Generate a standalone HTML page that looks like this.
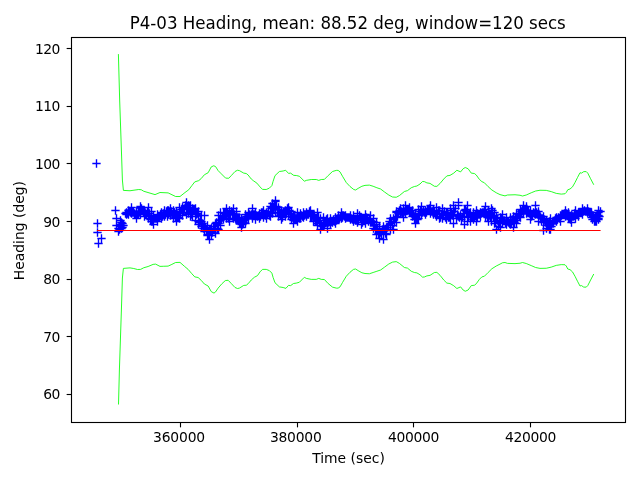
<!DOCTYPE html>
<html><head><meta charset="utf-8"><title>P4-03 Heading</title>
<style>
html,body{margin:0;padding:0;background:#fff;}
body{width:640px;height:480px;overflow:hidden;}
svg{display:block;}
text{font-family:"DejaVu Sans","Liberation Sans",sans-serif;fill:#000;}
.t10{font-size:13.89px;}
.tx{letter-spacing:-0.15px;}
.ty{letter-spacing:-0.55px;}
.t12{font-size:16.67px;letter-spacing:-0.024px;}
</style></head><body>
<svg width="640" height="480" viewBox="0 0 640 480">
<rect x="0" y="0" width="640" height="480" fill="#fff"/>
<defs><clipPath id="ax"><rect x="71.5" y="37.5" width="554" height="385"/></clipPath></defs>
<g clip-path="url(#ax)">
<path d="M92.33 163.50h8.34M96.50 159.33v8.34M93.33 223.50h8.34M97.50 219.33v8.34M93.33 232.50h8.34M97.50 228.33v8.34M97.33 238.50h8.34M101.50 234.33v8.34M94.33 243.50h8.34M98.50 239.33v8.34M111.33 210.50h8.34M115.50 206.33v8.34M112.33 218.50h8.34M116.50 214.33v8.34M112.33 225.50h8.34M116.50 221.33v8.34M114.33 231.50h8.34M118.50 227.33v8.34M115.33 229.50h8.34M119.50 225.33v8.34M116.33 220.50h8.34M120.50 216.33v8.34M117.33 222.50h8.34M121.50 218.33v8.34M118.33 223.50h8.34M122.50 219.33v8.34M119.33 225.50h8.34M123.50 221.33v8.34M118.33 227.50h8.34M122.50 223.33v8.34M117.33 228.50h8.34M121.50 224.33v8.34M116.33 226.50h8.34M120.50 222.33v8.34M116.33 224.50h8.34M120.50 220.33v8.34M114.33 228.50h8.34M118.50 224.33v8.34M121.33 213.50h8.34M125.50 209.33v8.34M122.33 213.50h8.34M126.50 209.33v8.34M123.33 213.50h8.34M127.50 209.33v8.34M124.33 212.50h8.34M128.50 208.33v8.34M125.33 211.50h8.34M129.50 207.33v8.34M126.33 211.50h8.34M130.50 207.33v8.34M126.33 212.50h8.34M130.50 208.33v8.34M127.33 211.50h8.34M131.50 207.33v8.34M128.33 212.50h8.34M132.50 208.33v8.34M129.33 212.50h8.34M133.50 208.33v8.34M130.33 213.50h8.34M134.50 209.33v8.34M131.33 214.50h8.34M135.50 210.33v8.34M132.33 212.50h8.34M136.50 208.33v8.34M133.33 214.50h8.34M137.50 210.33v8.34M134.33 213.50h8.34M138.50 209.33v8.34M135.33 212.50h8.34M139.50 208.33v8.34M136.33 207.50h8.34M140.50 203.33v8.34M137.33 208.50h8.34M141.50 204.33v8.34M138.33 210.50h8.34M142.50 206.33v8.34M139.33 212.50h8.34M143.50 208.33v8.34M140.33 213.50h8.34M144.50 209.33v8.34M141.33 213.50h8.34M145.50 209.33v8.34M142.33 214.50h8.34M146.50 210.33v8.34M143.33 211.50h8.34M147.50 207.33v8.34M144.33 213.50h8.34M148.50 209.33v8.34M145.33 215.50h8.34M149.50 211.33v8.34M145.33 213.50h8.34M149.50 209.33v8.34M146.33 219.50h8.34M150.50 215.33v8.34M147.33 218.50h8.34M151.50 214.33v8.34M148.33 221.50h8.34M152.50 217.33v8.34M149.33 219.50h8.34M153.50 215.33v8.34M150.33 218.50h8.34M154.50 214.33v8.34M151.33 218.50h8.34M155.50 214.33v8.34M152.33 218.50h8.34M156.50 214.33v8.34M153.33 219.50h8.34M157.50 215.33v8.34M154.33 217.50h8.34M158.50 213.33v8.34M155.33 216.50h8.34M159.50 212.33v8.34M156.33 214.50h8.34M160.50 210.33v8.34M157.33 214.50h8.34M161.50 210.33v8.34M158.33 216.50h8.34M162.50 212.33v8.34M159.33 213.50h8.34M163.50 209.33v8.34M160.33 213.50h8.34M164.50 209.33v8.34M161.33 214.50h8.34M165.50 210.33v8.34M162.33 211.50h8.34M166.50 207.33v8.34M163.33 213.50h8.34M167.50 209.33v8.34M164.33 214.50h8.34M168.50 210.33v8.34M164.33 210.50h8.34M168.50 206.33v8.34M165.33 211.50h8.34M169.50 207.33v8.34M166.33 211.50h8.34M170.50 207.33v8.34M167.33 211.50h8.34M171.50 207.33v8.34M168.33 214.50h8.34M172.50 210.33v8.34M169.33 214.50h8.34M173.50 210.33v8.34M170.33 212.50h8.34M174.50 208.33v8.34M171.33 217.50h8.34M175.50 213.33v8.34M172.33 217.50h8.34M176.50 213.33v8.34M173.33 217.50h8.34M177.50 213.33v8.34M174.33 217.50h8.34M178.50 213.33v8.34M175.33 213.50h8.34M179.50 209.33v8.34M176.33 212.50h8.34M180.50 208.33v8.34M177.33 209.50h8.34M181.50 205.33v8.34M178.33 212.50h8.34M182.50 208.33v8.34M179.33 209.50h8.34M183.50 205.33v8.34M180.33 208.50h8.34M184.50 204.33v8.34M181.33 205.50h8.34M185.50 201.33v8.34M182.33 205.50h8.34M186.50 201.33v8.34M183.33 207.50h8.34M187.50 203.33v8.34M184.33 213.50h8.34M188.50 209.33v8.34M184.33 205.50h8.34M188.50 201.33v8.34M185.33 207.50h8.34M189.50 203.33v8.34M186.33 212.50h8.34M190.50 208.33v8.34M187.33 214.50h8.34M191.50 210.33v8.34M188.33 214.50h8.34M192.50 210.33v8.34M189.33 209.50h8.34M193.50 205.33v8.34M190.33 209.50h8.34M194.50 205.33v8.34M191.33 216.50h8.34M195.50 212.33v8.34M192.33 214.50h8.34M196.50 210.33v8.34M193.33 213.50h8.34M197.50 209.33v8.34M194.33 221.50h8.34M198.50 217.33v8.34M195.33 222.50h8.34M199.50 218.33v8.34M196.33 220.50h8.34M200.50 216.33v8.34M197.33 221.50h8.34M201.50 217.33v8.34M198.33 223.50h8.34M202.50 219.33v8.34M199.33 228.50h8.34M203.50 224.33v8.34M200.33 225.50h8.34M204.50 221.33v8.34M201.33 227.50h8.34M205.50 223.33v8.34M202.33 229.50h8.34M206.50 225.33v8.34M203.33 225.50h8.34M207.50 221.33v8.34M203.33 234.50h8.34M207.50 230.33v8.34M204.33 235.50h8.34M208.50 231.33v8.34M205.33 235.50h8.34M209.50 231.33v8.34M206.33 229.50h8.34M210.50 225.33v8.34M207.33 231.50h8.34M211.50 227.33v8.34M208.33 232.50h8.34M212.50 228.33v8.34M209.33 226.50h8.34M213.50 222.33v8.34M210.33 228.50h8.34M214.50 224.33v8.34M211.33 230.50h8.34M215.50 226.33v8.34M212.33 222.50h8.34M216.50 218.33v8.34M213.33 228.50h8.34M217.50 224.33v8.34M214.33 223.50h8.34M218.50 219.33v8.34M215.33 220.50h8.34M219.50 216.33v8.34M216.33 220.50h8.34M220.50 216.33v8.34M217.33 219.50h8.34M221.50 215.33v8.34M218.33 217.50h8.34M222.50 213.33v8.34M219.33 217.50h8.34M223.50 213.33v8.34M220.33 213.50h8.34M224.50 209.33v8.34M221.33 213.50h8.34M225.50 209.33v8.34M222.33 216.50h8.34M226.50 212.33v8.34M222.33 214.50h8.34M226.50 210.33v8.34M223.33 212.50h8.34M227.50 208.33v8.34M224.33 218.50h8.34M228.50 214.33v8.34M225.33 219.50h8.34M229.50 215.33v8.34M226.33 214.50h8.34M230.50 210.33v8.34M227.33 211.50h8.34M231.50 207.33v8.34M228.33 213.50h8.34M232.50 209.33v8.34M229.33 213.50h8.34M233.50 209.33v8.34M230.33 214.50h8.34M234.50 210.33v8.34M231.33 218.50h8.34M235.50 214.33v8.34M232.33 214.50h8.34M236.50 210.33v8.34M233.33 219.50h8.34M237.50 215.33v8.34M234.33 217.50h8.34M238.50 213.33v8.34M235.33 219.50h8.34M239.50 215.33v8.34M236.33 222.50h8.34M240.50 218.33v8.34M237.33 224.50h8.34M241.50 220.33v8.34M238.33 224.50h8.34M242.50 220.33v8.34M239.33 222.50h8.34M243.50 218.33v8.34M240.33 220.50h8.34M244.50 216.33v8.34M241.33 219.50h8.34M245.50 215.33v8.34M242.33 218.50h8.34M246.50 214.33v8.34M242.33 216.50h8.34M246.50 212.33v8.34M243.33 216.50h8.34M247.50 212.33v8.34M244.33 215.50h8.34M248.50 211.33v8.34M245.33 214.50h8.34M249.50 210.33v8.34M246.33 215.50h8.34M250.50 211.33v8.34M247.33 214.50h8.34M251.50 210.33v8.34M248.33 217.50h8.34M252.50 213.33v8.34M249.33 214.50h8.34M253.50 210.33v8.34M250.33 214.50h8.34M254.50 210.33v8.34M251.33 215.50h8.34M255.50 211.33v8.34M252.33 215.50h8.34M256.50 211.33v8.34M253.33 216.50h8.34M257.50 212.33v8.34M254.33 215.50h8.34M258.50 211.33v8.34M255.33 215.50h8.34M259.50 211.33v8.34M256.33 216.50h8.34M260.50 212.33v8.34M257.33 212.50h8.34M261.50 208.33v8.34M258.33 212.50h8.34M262.50 208.33v8.34M259.33 214.50h8.34M263.50 210.33v8.34M260.33 214.50h8.34M264.50 210.33v8.34M261.33 215.50h8.34M265.50 211.33v8.34M261.33 214.50h8.34M265.50 210.33v8.34M262.33 215.50h8.34M266.50 211.33v8.34M263.33 214.50h8.34M267.50 210.33v8.34M264.33 211.50h8.34M268.50 207.33v8.34M265.33 215.50h8.34M269.50 211.33v8.34M266.33 211.50h8.34M270.50 207.33v8.34M267.33 208.50h8.34M271.50 204.33v8.34M268.33 207.50h8.34M272.50 203.33v8.34M269.33 207.50h8.34M273.50 203.33v8.34M270.33 206.50h8.34M274.50 202.33v8.34M271.33 201.50h8.34M275.50 197.33v8.34M272.33 206.50h8.34M276.50 202.33v8.34M273.33 212.50h8.34M277.50 208.33v8.34M274.33 209.50h8.34M278.50 205.33v8.34M275.33 212.50h8.34M279.50 208.33v8.34M276.33 215.50h8.34M280.50 211.33v8.34M277.33 215.50h8.34M281.50 211.33v8.34M278.33 217.50h8.34M282.50 213.33v8.34M279.33 211.50h8.34M283.50 207.33v8.34M280.33 213.50h8.34M284.50 209.33v8.34M281.33 213.50h8.34M285.50 209.33v8.34M282.33 213.50h8.34M286.50 209.33v8.34M283.33 208.50h8.34M287.50 204.33v8.34M284.33 213.50h8.34M288.50 209.33v8.34M285.33 210.50h8.34M289.50 206.33v8.34M286.33 216.50h8.34M290.50 212.33v8.34M287.33 213.50h8.34M291.50 209.33v8.34M288.33 217.50h8.34M292.50 213.33v8.34M289.33 220.50h8.34M293.50 216.33v8.34M290.33 218.50h8.34M294.50 214.33v8.34M291.33 218.50h8.34M295.50 214.33v8.34M292.33 218.50h8.34M296.50 214.33v8.34M293.33 217.50h8.34M297.50 213.33v8.34M294.33 216.50h8.34M298.50 212.33v8.34M295.33 218.50h8.34M299.50 214.33v8.34M296.33 216.50h8.34M300.50 212.33v8.34M297.33 215.50h8.34M301.50 211.33v8.34M298.33 216.50h8.34M302.50 212.33v8.34M299.33 213.50h8.34M303.50 209.33v8.34M300.33 215.50h8.34M304.50 211.33v8.34M300.33 214.50h8.34M304.50 210.33v8.34M301.33 214.50h8.34M305.50 210.33v8.34M302.33 215.50h8.34M306.50 211.33v8.34M303.33 214.50h8.34M307.50 210.33v8.34M304.33 214.50h8.34M308.50 210.33v8.34M305.33 211.50h8.34M309.50 207.33v8.34M306.33 212.50h8.34M310.50 208.33v8.34M307.33 216.50h8.34M311.50 212.33v8.34M308.33 215.50h8.34M312.50 211.33v8.34M309.33 216.50h8.34M313.50 212.33v8.34M310.33 215.50h8.34M314.50 211.33v8.34M311.33 221.50h8.34M315.50 217.33v8.34M312.33 220.50h8.34M316.50 216.33v8.34M313.33 223.50h8.34M317.50 219.33v8.34M314.33 217.50h8.34M318.50 213.33v8.34M315.33 222.50h8.34M319.50 218.33v8.34M316.33 220.50h8.34M320.50 216.33v8.34M317.33 225.50h8.34M321.50 221.33v8.34M318.33 226.50h8.34M322.50 222.33v8.34M319.33 220.50h8.34M323.50 216.33v8.34M319.33 224.50h8.34M323.50 220.33v8.34M320.33 223.50h8.34M324.50 219.33v8.34M321.33 222.50h8.34M325.50 218.33v8.34M322.33 219.50h8.34M326.50 215.33v8.34M323.33 225.50h8.34M327.50 221.33v8.34M324.33 222.50h8.34M328.50 218.33v8.34M325.33 221.50h8.34M329.50 217.33v8.34M326.33 222.50h8.34M330.50 218.33v8.34M327.33 221.50h8.34M331.50 217.33v8.34M328.33 222.50h8.34M332.50 218.33v8.34M329.33 219.50h8.34M333.50 215.33v8.34M330.33 221.50h8.34M334.50 217.33v8.34M331.33 221.50h8.34M335.50 217.33v8.34M332.33 220.50h8.34M336.50 216.33v8.34M333.33 218.50h8.34M337.50 214.33v8.34M334.33 217.50h8.34M338.50 213.33v8.34M335.33 218.50h8.34M339.50 214.33v8.34M336.33 216.50h8.34M340.50 212.33v8.34M337.33 215.50h8.34M341.50 211.33v8.34M338.33 217.50h8.34M342.50 213.33v8.34M338.33 215.50h8.34M342.50 211.33v8.34M339.33 215.50h8.34M343.50 211.33v8.34M340.33 216.50h8.34M344.50 212.33v8.34M341.33 216.50h8.34M345.50 212.33v8.34M342.33 217.50h8.34M346.50 213.33v8.34M343.33 217.50h8.34M347.50 213.33v8.34M344.33 217.50h8.34M348.50 213.33v8.34M345.33 217.50h8.34M349.50 213.33v8.34M346.33 218.50h8.34M350.50 214.33v8.34M347.33 218.50h8.34M351.50 214.33v8.34M348.33 219.50h8.34M352.50 215.33v8.34M349.33 218.50h8.34M353.50 214.33v8.34M350.33 219.50h8.34M354.50 215.33v8.34M351.33 220.50h8.34M355.50 216.33v8.34M352.33 220.50h8.34M356.50 216.33v8.34M353.33 216.50h8.34M357.50 212.33v8.34M354.33 219.50h8.34M358.50 215.33v8.34M355.33 215.50h8.34M359.50 211.33v8.34M356.33 217.50h8.34M360.50 213.33v8.34M357.33 217.50h8.34M361.50 213.33v8.34M358.33 222.50h8.34M362.50 218.33v8.34M358.33 218.50h8.34M362.50 214.33v8.34M359.33 219.50h8.34M363.50 215.33v8.34M360.33 218.50h8.34M364.50 214.33v8.34M361.33 218.50h8.34M365.50 214.33v8.34M362.33 217.50h8.34M366.50 213.33v8.34M363.33 219.50h8.34M367.50 215.33v8.34M364.33 221.50h8.34M368.50 217.33v8.34M365.33 219.50h8.34M369.50 215.33v8.34M366.33 220.50h8.34M370.50 216.33v8.34M367.33 222.50h8.34M371.50 218.33v8.34M368.33 222.50h8.34M372.50 218.33v8.34M369.33 221.50h8.34M373.50 217.33v8.34M370.33 224.50h8.34M374.50 220.33v8.34M371.33 229.50h8.34M375.50 225.33v8.34M372.33 224.50h8.34M376.50 220.33v8.34M373.33 228.50h8.34M377.50 224.33v8.34M374.33 233.50h8.34M378.50 229.33v8.34M375.33 234.50h8.34M379.50 230.33v8.34M376.33 232.50h8.34M380.50 228.33v8.34M377.33 234.50h8.34M381.50 230.33v8.34M377.33 233.50h8.34M381.50 229.33v8.34M378.33 229.50h8.34M382.50 225.33v8.34M379.33 228.50h8.34M383.50 224.33v8.34M380.33 230.50h8.34M384.50 226.33v8.34M381.33 233.50h8.34M385.50 229.33v8.34M382.33 230.50h8.34M386.50 226.33v8.34M383.33 227.50h8.34M387.50 223.33v8.34M384.33 225.50h8.34M388.50 221.33v8.34M385.33 221.50h8.34M389.50 217.33v8.34M386.33 223.50h8.34M390.50 219.33v8.34M387.33 221.50h8.34M391.50 217.33v8.34M388.33 225.50h8.34M392.50 221.33v8.34M389.33 219.50h8.34M393.50 215.33v8.34M390.33 222.50h8.34M394.50 218.33v8.34M391.33 217.50h8.34M395.50 213.33v8.34M392.33 212.50h8.34M396.50 208.33v8.34M393.33 216.50h8.34M397.50 212.33v8.34M394.33 213.50h8.34M398.50 209.33v8.34M395.33 210.50h8.34M399.50 206.33v8.34M396.33 210.50h8.34M400.50 206.33v8.34M396.33 211.50h8.34M400.50 207.33v8.34M397.33 211.50h8.34M401.50 207.33v8.34M398.33 213.50h8.34M402.50 209.33v8.34M399.33 214.50h8.34M403.50 210.33v8.34M400.33 211.50h8.34M404.50 207.33v8.34M401.33 209.50h8.34M405.50 205.33v8.34M402.33 210.50h8.34M406.50 206.33v8.34M403.33 210.50h8.34M407.50 206.33v8.34M404.33 210.50h8.34M408.50 206.33v8.34M405.33 208.50h8.34M409.50 204.33v8.34M406.33 212.50h8.34M410.50 208.33v8.34M407.33 213.50h8.34M411.50 209.33v8.34M408.33 213.50h8.34M412.50 209.33v8.34M409.33 214.50h8.34M413.50 210.33v8.34M410.33 219.50h8.34M414.50 215.33v8.34M411.33 214.50h8.34M415.50 210.33v8.34M412.33 218.50h8.34M416.50 214.33v8.34M413.33 219.50h8.34M417.50 215.33v8.34M414.33 213.50h8.34M418.50 209.33v8.34M415.33 214.50h8.34M419.50 210.33v8.34M415.33 215.50h8.34M419.50 211.33v8.34M416.33 211.50h8.34M420.50 207.33v8.34M417.33 211.50h8.34M421.50 207.33v8.34M418.33 212.50h8.34M422.50 208.33v8.34M419.33 210.50h8.34M423.50 206.33v8.34M420.33 212.50h8.34M424.50 208.33v8.34M421.33 212.50h8.34M425.50 208.33v8.34M422.33 212.50h8.34M426.50 208.33v8.34M423.33 210.50h8.34M427.50 206.33v8.34M424.33 210.50h8.34M428.50 206.33v8.34M425.33 208.50h8.34M429.50 204.33v8.34M426.33 209.50h8.34M430.50 205.33v8.34M427.33 211.50h8.34M431.50 207.33v8.34M428.33 211.50h8.34M432.50 207.33v8.34M429.33 211.50h8.34M433.50 207.33v8.34M430.33 211.50h8.34M434.50 207.33v8.34M431.33 214.50h8.34M435.50 210.33v8.34M432.33 214.50h8.34M436.50 210.33v8.34M433.33 213.50h8.34M437.50 209.33v8.34M434.33 210.50h8.34M438.50 206.33v8.34M435.33 214.50h8.34M439.50 210.33v8.34M436.33 217.50h8.34M440.50 213.33v8.34M437.33 214.50h8.34M441.50 210.33v8.34M438.33 213.50h8.34M442.50 209.33v8.34M439.33 215.50h8.34M443.50 211.33v8.34M440.33 211.50h8.34M444.50 207.33v8.34M441.33 217.50h8.34M445.50 213.33v8.34M442.33 215.50h8.34M446.50 211.33v8.34M443.33 213.50h8.34M447.50 209.33v8.34M444.33 217.50h8.34M448.50 213.33v8.34M445.33 217.50h8.34M449.50 213.33v8.34M446.33 210.50h8.34M450.50 206.33v8.34M447.33 212.50h8.34M451.50 208.33v8.34M448.33 215.50h8.34M452.50 211.33v8.34M449.33 215.50h8.34M453.50 211.33v8.34M450.33 211.50h8.34M454.50 207.33v8.34M451.33 208.50h8.34M455.50 204.33v8.34M452.33 218.50h8.34M456.50 214.33v8.34M453.33 214.50h8.34M457.50 210.33v8.34M454.33 205.50h8.34M458.50 201.33v8.34M455.33 217.50h8.34M459.50 213.33v8.34M456.33 215.50h8.34M460.50 211.33v8.34M457.33 219.50h8.34M461.50 215.33v8.34M458.33 217.50h8.34M462.50 213.33v8.34M459.33 213.50h8.34M463.50 209.33v8.34M460.33 217.50h8.34M464.50 213.33v8.34M461.33 209.50h8.34M465.50 205.33v8.34M462.33 211.50h8.34M466.50 207.33v8.34M463.33 213.50h8.34M467.50 209.33v8.34M464.33 216.50h8.34M468.50 212.33v8.34M465.33 213.50h8.34M469.50 209.33v8.34M466.33 216.50h8.34M470.50 212.33v8.34M467.33 217.50h8.34M471.50 213.33v8.34M468.33 217.50h8.34M472.50 213.33v8.34M469.33 217.50h8.34M473.50 213.33v8.34M470.33 216.50h8.34M474.50 212.33v8.34M471.33 215.50h8.34M475.50 211.33v8.34M472.33 217.50h8.34M476.50 213.33v8.34M473.33 216.50h8.34M477.50 212.33v8.34M473.33 213.50h8.34M477.50 209.33v8.34M474.33 214.50h8.34M478.50 210.33v8.34M475.33 214.50h8.34M479.50 210.33v8.34M476.33 213.50h8.34M480.50 209.33v8.34M477.33 213.50h8.34M481.50 209.33v8.34M478.33 212.50h8.34M482.50 208.33v8.34M479.33 212.50h8.34M483.50 208.33v8.34M480.33 211.50h8.34M484.50 207.33v8.34M481.33 209.50h8.34M485.50 205.33v8.34M482.33 214.50h8.34M486.50 210.33v8.34M483.33 217.50h8.34M487.50 213.33v8.34M484.33 217.50h8.34M488.50 213.33v8.34M485.33 215.50h8.34M489.50 211.33v8.34M486.33 216.50h8.34M490.50 212.33v8.34M487.33 212.50h8.34M491.50 208.33v8.34M488.33 210.50h8.34M492.50 206.33v8.34M489.33 216.50h8.34M493.50 212.33v8.34M490.33 215.50h8.34M494.50 211.33v8.34M491.33 221.50h8.34M495.50 217.33v8.34M492.33 218.50h8.34M496.50 214.33v8.34M493.33 218.50h8.34M497.50 214.33v8.34M493.33 220.50h8.34M497.50 216.33v8.34M494.33 226.50h8.34M498.50 222.33v8.34M495.33 221.50h8.34M499.50 217.33v8.34M496.33 218.50h8.34M500.50 214.33v8.34M497.33 218.50h8.34M501.50 214.33v8.34M498.33 220.50h8.34M502.50 216.33v8.34M499.33 220.50h8.34M503.50 216.33v8.34M500.33 220.50h8.34M504.50 216.33v8.34M501.33 223.50h8.34M505.50 219.33v8.34M502.33 222.50h8.34M506.50 218.33v8.34M503.33 221.50h8.34M507.50 217.33v8.34M504.33 222.50h8.34M508.50 218.33v8.34M505.33 223.50h8.34M509.50 219.33v8.34M506.33 222.50h8.34M510.50 218.33v8.34M507.33 223.50h8.34M511.50 219.33v8.34M508.33 219.50h8.34M512.50 215.33v8.34M509.33 221.50h8.34M513.50 217.33v8.34M510.33 222.50h8.34M514.50 218.33v8.34M511.33 218.50h8.34M515.50 214.33v8.34M512.33 220.50h8.34M516.50 216.33v8.34M512.33 218.50h8.34M516.50 214.33v8.34M513.33 217.50h8.34M517.50 213.33v8.34M514.33 214.50h8.34M518.50 210.33v8.34M515.33 216.50h8.34M519.50 212.33v8.34M516.33 214.50h8.34M520.50 210.33v8.34M517.33 211.50h8.34M521.50 207.33v8.34M518.33 210.50h8.34M522.50 206.33v8.34M519.33 212.50h8.34M523.50 208.33v8.34M520.33 209.50h8.34M524.50 205.33v8.34M521.33 210.50h8.34M525.50 206.33v8.34M522.33 211.50h8.34M526.50 207.33v8.34M523.33 211.50h8.34M527.50 207.33v8.34M524.33 210.50h8.34M528.50 206.33v8.34M525.33 213.50h8.34M529.50 209.33v8.34M526.33 215.50h8.34M530.50 211.33v8.34M527.33 216.50h8.34M531.50 212.33v8.34M528.33 215.50h8.34M532.50 211.33v8.34M529.33 212.50h8.34M533.50 208.33v8.34M530.33 213.50h8.34M534.50 209.33v8.34M531.33 211.50h8.34M535.50 207.33v8.34M531.33 210.50h8.34M535.50 206.33v8.34M532.33 212.50h8.34M536.50 208.33v8.34M533.33 214.50h8.34M537.50 210.33v8.34M534.33 217.50h8.34M538.50 213.33v8.34M535.33 215.50h8.34M539.50 211.33v8.34M536.33 217.50h8.34M540.50 213.33v8.34M537.33 221.50h8.34M541.50 217.33v8.34M538.33 218.50h8.34M542.50 214.33v8.34M539.33 222.50h8.34M543.50 218.33v8.34M540.33 219.50h8.34M544.50 215.33v8.34M541.33 222.50h8.34M545.50 218.33v8.34M542.33 225.50h8.34M546.50 221.33v8.34M543.33 225.50h8.34M547.50 221.33v8.34M544.33 224.50h8.34M548.50 220.33v8.34M545.33 224.50h8.34M549.50 220.33v8.34M546.33 220.50h8.34M550.50 216.33v8.34M547.33 226.50h8.34M551.50 222.33v8.34M548.33 223.50h8.34M552.50 219.33v8.34M549.33 223.50h8.34M553.50 219.33v8.34M550.33 220.50h8.34M554.50 216.33v8.34M551.33 220.50h8.34M555.50 216.33v8.34M551.33 218.50h8.34M555.50 214.33v8.34M552.33 220.50h8.34M556.50 216.33v8.34M553.33 219.50h8.34M557.50 215.33v8.34M554.33 217.50h8.34M558.50 213.33v8.34M555.33 218.50h8.34M559.50 214.33v8.34M556.33 218.50h8.34M560.50 214.33v8.34M557.33 215.50h8.34M561.50 211.33v8.34M558.33 214.50h8.34M562.50 210.33v8.34M559.33 214.50h8.34M563.50 210.33v8.34M560.33 213.50h8.34M564.50 209.33v8.34M561.33 211.50h8.34M565.50 207.33v8.34M562.33 213.50h8.34M566.50 209.33v8.34M563.33 214.50h8.34M567.50 210.33v8.34M564.33 216.50h8.34M568.50 212.33v8.34M565.33 217.50h8.34M569.50 213.33v8.34M566.33 219.50h8.34M570.50 215.33v8.34M567.33 219.50h8.34M571.50 215.33v8.34M568.33 216.50h8.34M572.50 212.33v8.34M569.33 216.50h8.34M573.50 212.33v8.34M570.33 214.50h8.34M574.50 210.33v8.34M570.33 213.50h8.34M574.50 209.33v8.34M571.33 214.50h8.34M575.50 210.33v8.34M572.33 214.50h8.34M576.50 210.33v8.34M573.33 214.50h8.34M577.50 210.33v8.34M574.33 213.50h8.34M578.50 209.33v8.34M575.33 212.50h8.34M579.50 208.33v8.34M576.33 212.50h8.34M580.50 208.33v8.34M577.33 212.50h8.34M581.50 208.33v8.34M578.33 211.50h8.34M582.50 207.33v8.34M579.33 211.50h8.34M583.50 207.33v8.34M580.33 210.50h8.34M584.50 206.33v8.34M581.33 211.50h8.34M585.50 207.33v8.34M582.33 211.50h8.34M586.50 207.33v8.34M583.33 210.50h8.34M587.50 206.33v8.34M584.33 211.50h8.34M588.50 207.33v8.34M585.33 212.50h8.34M589.50 208.33v8.34M586.33 212.50h8.34M590.50 208.33v8.34M587.33 214.50h8.34M591.50 210.33v8.34M588.33 215.50h8.34M592.50 211.33v8.34M589.33 215.50h8.34M593.50 211.33v8.34M589.33 217.50h8.34M593.50 213.33v8.34M590.33 218.50h8.34M594.50 214.33v8.34M591.33 217.50h8.34M595.50 213.33v8.34M592.33 217.50h8.34M596.50 213.33v8.34M593.33 216.50h8.34M597.50 212.33v8.34M594.33 215.50h8.34M598.50 211.33v8.34M596.33 211.50h8.34M600.50 207.33v8.34M594.33 210.50h8.34M598.50 206.33v8.34M595.33 216.50h8.34M599.50 212.33v8.34M590.33 221.50h8.34M594.50 217.33v8.34M592.33 221.50h8.34M596.50 217.33v8.34M588.33 219.50h8.34M592.50 215.33v8.34M594.33 219.50h8.34M598.50 215.33v8.34M587.33 217.50h8.34M591.50 213.33v8.34M122.33 212.50h8.34M126.50 208.33v8.34M122.33 214.50h8.34M126.50 210.33v8.34M124.33 210.50h8.34M128.50 206.33v8.34M124.33 214.50h8.34M128.50 210.33v8.34M127.33 207.50h8.34M131.50 203.33v8.34M127.33 213.50h8.34M131.50 209.33v8.34M132.33 211.50h8.34M136.50 207.33v8.34M132.33 218.50h8.34M136.50 214.33v8.34M136.33 206.50h8.34M140.50 202.33v8.34M136.33 214.50h8.34M140.50 210.33v8.34M140.33 210.50h8.34M144.50 206.33v8.34M140.33 216.50h8.34M144.50 212.33v8.34M144.33 207.50h8.34M148.50 203.33v8.34M144.33 218.50h8.34M148.50 214.33v8.34M147.33 211.50h8.34M151.50 207.33v8.34M147.33 221.50h8.34M151.50 217.33v8.34M149.33 216.50h8.34M153.50 212.33v8.34M149.33 224.50h8.34M153.50 220.33v8.34M153.33 214.50h8.34M157.50 210.33v8.34M153.33 221.50h8.34M157.50 217.33v8.34M157.33 212.50h8.34M161.50 208.33v8.34M157.33 218.50h8.34M161.50 214.33v8.34M160.33 210.50h8.34M164.50 206.33v8.34M160.33 216.50h8.34M164.50 212.33v8.34M163.33 210.50h8.34M167.50 206.33v8.34M163.33 216.50h8.34M167.50 212.33v8.34M166.33 208.50h8.34M170.50 204.33v8.34M166.33 215.50h8.34M170.50 211.33v8.34M169.33 210.50h8.34M173.50 206.33v8.34M169.33 218.50h8.34M173.50 214.33v8.34M172.33 211.50h8.34M176.50 207.33v8.34M172.33 221.50h8.34M176.50 217.33v8.34M175.33 207.50h8.34M179.50 203.33v8.34M175.33 218.50h8.34M179.50 214.33v8.34M178.33 207.50h8.34M182.50 203.33v8.34M178.33 215.50h8.34M182.50 211.33v8.34M182.33 202.50h8.34M186.50 198.33v8.34M182.33 214.50h8.34M186.50 210.33v8.34M186.33 205.50h8.34M190.50 201.33v8.34M186.33 216.50h8.34M190.50 212.33v8.34M188.33 208.50h8.34M192.50 204.33v8.34M188.33 216.50h8.34M192.50 212.33v8.34M191.33 208.50h8.34M195.50 204.33v8.34M191.33 220.50h8.34M195.50 216.33v8.34M194.33 211.50h8.34M198.50 207.33v8.34M194.33 224.50h8.34M198.50 220.33v8.34M197.33 215.50h8.34M201.50 211.33v8.34M197.33 226.50h8.34M201.50 222.33v8.34M200.33 215.50h8.34M204.50 211.33v8.34M200.33 231.50h8.34M204.50 227.33v8.34M203.33 235.50h8.34M207.50 231.33v8.34M205.33 229.50h8.34M209.50 225.33v8.34M205.33 239.50h8.34M209.50 235.33v8.34M207.33 228.50h8.34M211.50 224.33v8.34M207.33 235.50h8.34M211.50 231.33v8.34M211.33 223.50h8.34M215.50 219.33v8.34M211.33 233.50h8.34M215.50 229.33v8.34M214.33 215.50h8.34M218.50 211.33v8.34M214.33 229.50h8.34M218.50 225.33v8.34M216.33 212.50h8.34M220.50 208.33v8.34M216.33 225.50h8.34M220.50 221.33v8.34M219.33 212.50h8.34M223.50 208.33v8.34M219.33 219.50h8.34M223.50 215.33v8.34M222.33 208.50h8.34M226.50 204.33v8.34M222.33 218.50h8.34M226.50 214.33v8.34M225.33 210.50h8.34M229.50 206.33v8.34M225.33 221.50h8.34M229.50 217.33v8.34M229.33 208.50h8.34M233.50 204.33v8.34M229.33 218.50h8.34M233.50 214.33v8.34M232.33 211.50h8.34M236.50 207.33v8.34M232.33 220.50h8.34M236.50 216.33v8.34M235.33 217.50h8.34M239.50 213.33v8.34M235.33 223.50h8.34M239.50 219.33v8.34M237.33 218.50h8.34M241.50 214.33v8.34M237.33 227.50h8.34M241.50 223.33v8.34M241.33 214.50h8.34M245.50 210.33v8.34M241.33 223.50h8.34M245.50 219.33v8.34M244.33 212.50h8.34M248.50 208.33v8.34M244.33 218.50h8.34M248.50 214.33v8.34M248.33 208.50h8.34M252.50 204.33v8.34M248.33 218.50h8.34M252.50 214.33v8.34M251.33 212.50h8.34M255.50 208.33v8.34M251.33 219.50h8.34M255.50 215.33v8.34M255.33 213.50h8.34M259.50 209.33v8.34M255.33 218.50h8.34M259.50 214.33v8.34M259.33 210.50h8.34M263.50 206.33v8.34M259.33 217.50h8.34M263.50 213.33v8.34M262.33 212.50h8.34M266.50 208.33v8.34M262.33 218.50h8.34M266.50 214.33v8.34M266.33 206.50h8.34M270.50 202.33v8.34M266.33 216.50h8.34M270.50 212.33v8.34M268.33 203.50h8.34M272.50 199.33v8.34M268.33 213.50h8.34M272.50 209.33v8.34M271.33 200.50h8.34M275.50 196.33v8.34M271.33 212.50h8.34M275.50 208.33v8.34M274.33 207.50h8.34M278.50 203.33v8.34M274.33 216.50h8.34M278.50 212.33v8.34M277.33 210.50h8.34M281.50 206.33v8.34M277.33 219.50h8.34M281.50 215.33v8.34M281.33 210.50h8.34M285.50 206.33v8.34M281.33 216.50h8.34M285.50 212.33v8.34M284.33 207.50h8.34M288.50 203.33v8.34M284.33 214.50h8.34M288.50 210.33v8.34M287.33 211.50h8.34M291.50 207.33v8.34M287.33 219.50h8.34M291.50 215.33v8.34M289.33 215.50h8.34M293.50 211.33v8.34M289.33 223.50h8.34M293.50 219.33v8.34M293.33 212.50h8.34M297.50 208.33v8.34M293.33 221.50h8.34M297.50 217.33v8.34M296.33 213.50h8.34M300.50 209.33v8.34M296.33 218.50h8.34M300.50 214.33v8.34M299.33 212.50h8.34M303.50 208.33v8.34M299.33 217.50h8.34M303.50 213.33v8.34M302.33 212.50h8.34M306.50 208.33v8.34M302.33 216.50h8.34M306.50 212.33v8.34M306.33 210.50h8.34M310.50 206.33v8.34M306.33 216.50h8.34M310.50 212.33v8.34M309.33 214.50h8.34M313.50 210.33v8.34M309.33 221.50h8.34M313.50 217.33v8.34M313.33 212.50h8.34M317.50 208.33v8.34M313.33 225.50h8.34M317.50 221.33v8.34M316.33 218.50h8.34M320.50 214.33v8.34M316.33 229.50h8.34M320.50 225.33v8.34M319.33 217.50h8.34M323.50 213.33v8.34M319.33 225.50h8.34M323.50 221.33v8.34M323.33 218.50h8.34M327.50 214.33v8.34M323.33 228.50h8.34M327.50 224.33v8.34M326.33 218.50h8.34M330.50 214.33v8.34M326.33 224.50h8.34M330.50 220.33v8.34M331.33 217.50h8.34M335.50 213.33v8.34M331.33 223.50h8.34M335.50 219.33v8.34M334.33 215.50h8.34M338.50 211.33v8.34M334.33 219.50h8.34M338.50 215.33v8.34M337.33 212.50h8.34M341.50 208.33v8.34M337.33 218.50h8.34M341.50 214.33v8.34M341.33 215.50h8.34M345.50 211.33v8.34M341.33 218.50h8.34M345.50 214.33v8.34M346.33 215.50h8.34M350.50 211.33v8.34M346.33 219.50h8.34M350.50 215.33v8.34M349.33 215.50h8.34M353.50 211.33v8.34M349.33 221.50h8.34M353.50 217.33v8.34M353.33 213.50h8.34M357.50 209.33v8.34M353.33 222.50h8.34M357.50 218.33v8.34M357.33 224.50h8.34M361.50 220.33v8.34M361.33 214.50h8.34M365.50 210.33v8.34M361.33 223.50h8.34M365.50 219.33v8.34M366.33 215.50h8.34M370.50 211.33v8.34M366.33 222.50h8.34M370.50 218.33v8.34M369.33 218.50h8.34M373.50 214.33v8.34M369.33 228.50h8.34M373.50 224.33v8.34M372.33 222.50h8.34M376.50 218.33v8.34M372.33 234.50h8.34M376.50 230.33v8.34M375.33 226.50h8.34M379.50 222.33v8.34M375.33 238.50h8.34M379.50 234.33v8.34M379.33 226.50h8.34M383.50 222.33v8.34M379.33 239.50h8.34M383.50 235.33v8.34M382.33 227.50h8.34M386.50 223.33v8.34M382.33 234.50h8.34M386.50 230.33v8.34M386.33 218.50h8.34M390.50 214.33v8.34M386.33 229.50h8.34M390.50 225.33v8.34M389.33 218.50h8.34M393.50 214.33v8.34M389.33 229.50h8.34M393.50 225.33v8.34M392.33 211.50h8.34M396.50 207.33v8.34M392.33 222.50h8.34M396.50 218.33v8.34M396.33 208.50h8.34M400.50 204.33v8.34M396.33 213.50h8.34M400.50 209.33v8.34M399.33 208.50h8.34M403.50 204.33v8.34M399.33 217.50h8.34M403.50 213.33v8.34M401.33 205.50h8.34M405.50 201.33v8.34M401.33 212.50h8.34M405.50 208.33v8.34M405.33 207.50h8.34M409.50 203.33v8.34M405.33 212.50h8.34M409.50 208.33v8.34M408.33 210.50h8.34M412.50 206.33v8.34M408.33 216.50h8.34M412.50 212.33v8.34M411.33 213.50h8.34M415.50 209.33v8.34M411.33 223.50h8.34M415.50 219.33v8.34M414.33 209.50h8.34M418.50 205.33v8.34M414.33 218.50h8.34M418.50 214.33v8.34M417.33 206.50h8.34M421.50 202.33v8.34M417.33 214.50h8.34M421.50 210.33v8.34M421.33 210.50h8.34M425.50 206.33v8.34M421.33 214.50h8.34M425.50 210.33v8.34M426.33 205.50h8.34M430.50 201.33v8.34M426.33 213.50h8.34M430.50 209.33v8.34M429.33 210.50h8.34M433.50 206.33v8.34M429.33 214.50h8.34M433.50 210.33v8.34M432.33 207.50h8.34M436.50 203.33v8.34M432.33 216.50h8.34M436.50 212.33v8.34M435.33 210.50h8.34M439.50 206.33v8.34M435.33 218.50h8.34M439.50 214.33v8.34M438.33 208.50h8.34M442.50 204.33v8.34M438.33 218.50h8.34M442.50 214.33v8.34M442.33 212.50h8.34M446.50 208.33v8.34M442.33 219.50h8.34M446.50 215.33v8.34M446.33 208.50h8.34M450.50 204.33v8.34M446.33 218.50h8.34M450.50 214.33v8.34M449.33 205.50h8.34M453.50 201.33v8.34M449.33 223.50h8.34M453.50 219.33v8.34M454.33 202.50h8.34M458.50 198.33v8.34M454.33 216.50h8.34M458.50 212.33v8.34M460.33 210.50h8.34M464.50 206.33v8.34M460.33 224.50h8.34M464.50 220.33v8.34M463.33 205.50h8.34M467.50 201.33v8.34M463.33 221.50h8.34M467.50 217.33v8.34M466.33 212.50h8.34M470.50 208.33v8.34M466.33 221.50h8.34M470.50 217.33v8.34M469.33 212.50h8.34M473.50 208.33v8.34M469.33 219.50h8.34M473.50 215.33v8.34M472.33 210.50h8.34M476.50 206.33v8.34M472.33 221.50h8.34M476.50 217.33v8.34M476.33 212.50h8.34M480.50 208.33v8.34M476.33 216.50h8.34M480.50 212.33v8.34M481.33 206.50h8.34M485.50 202.33v8.34M481.33 216.50h8.34M485.50 212.33v8.34M484.33 211.50h8.34M488.50 207.33v8.34M484.33 221.50h8.34M488.50 217.33v8.34M487.33 208.50h8.34M491.50 204.33v8.34M487.33 221.50h8.34M491.50 217.33v8.34M490.33 212.50h8.34M494.50 208.33v8.34M490.33 223.50h8.34M494.50 219.33v8.34M492.33 217.50h8.34M496.50 213.33v8.34M492.33 229.50h8.34M496.50 225.33v8.34M496.33 217.50h8.34M500.50 213.33v8.34M496.33 227.50h8.34M500.50 223.33v8.34M498.33 214.50h8.34M502.50 210.33v8.34M498.33 223.50h8.34M502.50 219.33v8.34M502.33 217.50h8.34M506.50 213.33v8.34M502.33 224.50h8.34M506.50 220.33v8.34M506.33 217.50h8.34M510.50 213.33v8.34M506.33 224.50h8.34M510.50 220.33v8.34M509.33 216.50h8.34M513.50 212.33v8.34M509.33 227.50h8.34M513.50 223.33v8.34M512.33 213.50h8.34M516.50 209.33v8.34M512.33 223.50h8.34M516.50 219.33v8.34M516.33 209.50h8.34M520.50 205.33v8.34M516.33 217.50h8.34M520.50 213.33v8.34M519.33 205.50h8.34M523.50 201.33v8.34M519.33 213.50h8.34M523.50 209.33v8.34M522.33 206.50h8.34M526.50 202.33v8.34M522.33 213.50h8.34M526.50 209.33v8.34M526.33 210.50h8.34M530.50 206.33v8.34M526.33 219.50h8.34M530.50 215.33v8.34M531.33 205.50h8.34M535.50 201.33v8.34M531.33 214.50h8.34M535.50 210.33v8.34M534.33 211.50h8.34M538.50 207.33v8.34M534.33 221.50h8.34M538.50 217.33v8.34M539.33 216.50h8.34M543.50 212.33v8.34M539.33 230.50h8.34M543.50 226.33v8.34M542.33 220.50h8.34M546.50 216.33v8.34M542.33 228.50h8.34M546.50 224.33v8.34M545.33 221.50h8.34M549.50 217.33v8.34M545.33 229.50h8.34M549.50 225.33v8.34M546.33 218.50h8.34M550.50 214.33v8.34M546.33 229.50h8.34M550.50 225.33v8.34M552.33 217.50h8.34M556.50 213.33v8.34M552.33 221.50h8.34M556.50 217.33v8.34M556.33 215.50h8.34M560.50 211.33v8.34M556.33 221.50h8.34M560.50 217.33v8.34M561.33 210.50h8.34M565.50 206.33v8.34M561.33 216.50h8.34M565.50 212.33v8.34M564.33 212.50h8.34M568.50 208.33v8.34M564.33 218.50h8.34M568.50 214.33v8.34M567.33 215.50h8.34M571.50 211.33v8.34M567.33 222.50h8.34M571.50 218.33v8.34M571.33 210.50h8.34M575.50 206.33v8.34M571.33 218.50h8.34M575.50 214.33v8.34M574.33 212.50h8.34M578.50 208.33v8.34M574.33 216.50h8.34M578.50 212.33v8.34M578.33 208.50h8.34M582.50 204.33v8.34M578.33 214.50h8.34M582.50 210.33v8.34M583.33 208.50h8.34M587.50 204.33v8.34M583.33 212.50h8.34M587.50 208.33v8.34M587.33 212.50h8.34M591.50 208.33v8.34M591.33 216.50h8.34M595.50 212.33v8.34M591.33 221.50h8.34M595.50 217.33v8.34M594.33 212.50h8.34M598.50 208.33v8.34M594.33 218.50h8.34M598.50 214.33v8.34" fill="none" stroke="#0000ff" stroke-width="1.39"/>
<polyline points="118.40,54.10 119.70,101.00 121.40,150.00 122.40,180.00 123.40,190.40 130.00,190.75 138.75,189.50 141.25,189.75 143.75,191.25 155.00,194.62 160.00,192.50 168.12,192.88 175.62,196.50 180.00,196.50 185.00,192.50 188.75,189.75 191.88,185.62 194.75,181.88 198.75,180.62 201.25,178.50 204.38,174.75 208.12,172.75 211.25,166.88 213.75,165.75 215.62,166.62 218.12,170.62 221.25,173.75 225.62,178.12 228.75,178.25 231.25,175.62 235.00,171.50 237.50,170.25 239.38,170.62 243.75,173.12 246.25,173.50 248.12,175.00 251.25,179.00 253.75,181.00 256.88,183.12 260.00,186.88 262.50,189.38 266.25,189.50 269.38,188.12 271.88,185.62 273.12,181.25 275.00,175.62 279.38,171.50 283.12,171.00 285.62,170.25 288.50,173.38 290.62,173.12 293.75,175.38 296.25,175.50 299.38,176.25 304.38,181.25 306.25,180.38 311.25,179.50 316.25,179.50 318.75,180.38 321.25,179.50 324.38,179.38 328.12,175.62 332.50,171.50 336.25,170.38 338.12,170.38 340.00,171.88 342.50,176.25 346.25,182.50 350.00,186.50 353.75,189.50 355.62,190.00 358.12,188.38 361.88,186.25 365.00,185.38 369.38,185.12 373.12,186.25 376.88,187.75 380.62,189.00 384.38,191.88 388.75,195.00 392.50,197.00 396.25,197.25 399.38,195.62 404.38,191.50 407.50,190.62 411.25,187.75 414.38,186.50 416.88,186.00 420.00,184.00 422.50,181.50 424.38,181.62 426.88,182.88 430.00,183.38 434.38,186.25 436.88,186.38 440.00,183.50 443.75,179.00 446.88,175.88 450.00,175.38 453.75,173.12 456.88,170.25 460.62,171.88 463.12,168.75 465.25,167.50 468.12,168.75 471.25,173.12 474.38,173.50 476.25,175.00 479.38,179.38 481.88,181.62 484.38,182.75 488.12,186.62 491.88,190.00 496.25,192.75 500.00,194.62 505.00,195.88 507.50,195.00 515.00,194.75 520.00,195.25 522.50,196.00 526.25,195.00 531.25,192.75 535.62,191.00 540.00,190.25 546.25,190.38 551.25,191.62 556.25,193.38 561.25,194.12 565.00,193.75 566.25,192.50 567.75,189.75 570.00,189.00 572.50,186.88 575.00,182.50 577.50,177.50 580.00,172.75 581.50,173.12 583.75,171.62 586.25,171.62 587.75,173.12 590.62,178.75 593.75,184.75" fill="none" stroke="#00ff00" stroke-width="0.85" stroke-linejoin="round"/>
<polyline points="118.50,404.50 119.40,370.00 121.40,310.00 122.40,278.00 123.40,268.40 130.00,267.88 133.75,268.50 137.50,269.50 140.62,269.38 143.75,267.75 148.12,266.50 153.12,264.38 155.62,264.12 160.00,266.38 163.75,266.25 168.12,266.12 171.88,264.38 175.62,262.50 180.00,262.38 184.38,266.25 188.12,269.38 191.88,273.75 194.75,276.88 198.12,277.50 201.25,280.38 204.38,284.00 208.12,286.00 211.25,291.62 214.00,293.12 215.62,291.88 218.12,288.12 221.88,283.75 225.25,280.62 228.12,280.25 231.25,283.50 235.00,287.50 237.50,288.50 239.38,288.12 243.75,285.38 246.25,285.25 248.12,283.75 251.25,280.00 254.38,277.25 257.50,275.62 260.00,271.88 262.50,269.38 266.25,269.38 269.38,270.62 271.88,273.12 273.12,277.50 275.00,282.75 279.38,286.88 283.12,287.50 285.88,288.38 288.50,285.38 290.62,285.62 293.50,283.50 296.25,283.12 299.38,282.25 304.38,277.25 306.25,278.38 311.25,279.38 316.25,279.38 318.75,278.38 321.25,279.38 324.38,279.50 328.12,283.50 332.50,287.12 336.25,288.12 338.12,288.12 340.00,286.88 342.50,282.50 346.25,276.25 350.00,272.25 353.50,269.38 355.62,269.00 358.12,270.62 361.88,272.75 365.00,273.50 369.38,273.75 373.12,272.50 376.88,271.25 380.62,270.00 384.38,267.25 388.75,264.00 392.50,262.12 396.25,261.62 399.38,263.38 404.38,267.50 407.50,268.12 411.25,271.25 414.38,272.50 416.88,272.88 420.00,274.75 422.50,277.12 424.38,277.00 426.88,275.88 430.00,275.38 434.38,272.50 436.88,272.38 440.00,275.25 443.75,280.00 446.88,283.12 450.00,283.50 453.75,285.75 456.88,288.50 460.62,286.88 463.12,290.00 465.25,291.25 468.12,290.00 471.25,285.62 474.38,285.25 476.25,283.75 479.38,279.38 481.88,276.88 484.38,276.25 488.12,272.50 491.88,268.75 496.25,266.00 500.00,264.12 502.50,262.75 505.00,262.50 507.50,263.38 515.00,263.62 520.00,263.25 522.50,262.50 526.25,263.50 531.25,265.62 535.62,267.50 540.00,268.38 546.25,268.25 551.25,267.12 556.25,265.38 561.25,264.62 565.00,264.75 566.25,266.00 567.75,269.00 570.00,269.62 572.50,271.88 575.00,276.25 577.50,281.25 580.00,286.00 581.50,285.62 583.75,287.12 586.25,287.12 587.75,285.62 590.62,280.00 593.75,274.00" fill="none" stroke="#00ff00" stroke-width="0.85" stroke-linejoin="round"/>
<line x1="96.9" y1="230.5" x2="600.6" y2="230.5" stroke="#ff0000" stroke-width="1"/>
</g>
<rect x="71.5" y="37.5" width="554" height="385" fill="none" stroke="#000" stroke-width="1.11"/>
<line x1="180.5" y1="422.5" x2="180.5" y2="427.36" stroke="#000" stroke-width="1.11"/>
<text class="t10" style="letter-spacing:-0.15px" x="152.97" y="442.00">360000</text>
<line x1="297.5" y1="422.5" x2="297.5" y2="427.36" stroke="#000" stroke-width="1.11"/>
<text class="t10" style="letter-spacing:-0.22px" x="269.90" y="442.00">380000</text>
<line x1="413.5" y1="422.5" x2="413.5" y2="427.36" stroke="#000" stroke-width="1.11"/>
<text class="t10" style="letter-spacing:-0.33px" x="387.90" y="442.00">400000</text>
<line x1="530.5" y1="422.5" x2="530.5" y2="427.36" stroke="#000" stroke-width="1.11"/>
<text class="t10" style="letter-spacing:-0.33px" x="504.90" y="442.00">420000</text>
<line x1="66.64" y1="394.5" x2="71.5" y2="394.5" stroke="#000" stroke-width="1.11"/>
<text class="t10 ty" x="59.85" y="399.00" text-anchor="end">60</text>
<line x1="66.64" y1="336.5" x2="71.5" y2="336.5" stroke="#000" stroke-width="1.11"/>
<text class="t10 ty" x="59.85" y="342.00" text-anchor="end">70</text>
<line x1="66.64" y1="279.5" x2="71.5" y2="279.5" stroke="#000" stroke-width="1.11"/>
<text class="t10 ty" x="59.85" y="284.00" text-anchor="end">80</text>
<line x1="66.64" y1="221.5" x2="71.5" y2="221.5" stroke="#000" stroke-width="1.11"/>
<text class="t10 ty" x="59.85" y="227.00" text-anchor="end">90</text>
<line x1="66.64" y1="163.5" x2="71.5" y2="163.5" stroke="#000" stroke-width="1.11"/>
<text class="t10 ty" x="59.85" y="169.00" text-anchor="end">100</text>
<line x1="66.64" y1="106.5" x2="71.5" y2="106.5" stroke="#000" stroke-width="1.11"/>
<text class="t10 ty" x="59.85" y="111.00" text-anchor="end">110</text>
<line x1="66.64" y1="48.5" x2="71.5" y2="48.5" stroke="#000" stroke-width="1.11"/>
<text class="t10 ty" x="59.85" y="54.00" text-anchor="end">120</text>
<text class="t12" transform="translate(347.75 28.50) scale(1 1.07)" text-anchor="middle">P4-03 Heading, mean: 88.52 deg, window=120 secs</text>
<text class="t10" x="348.50" y="462.70" text-anchor="middle">Time (sec)</text>
<text class="t10" transform="translate(24.40 230.60) rotate(-90)" text-anchor="middle">Heading (deg)</text>
</svg>
</body></html>
